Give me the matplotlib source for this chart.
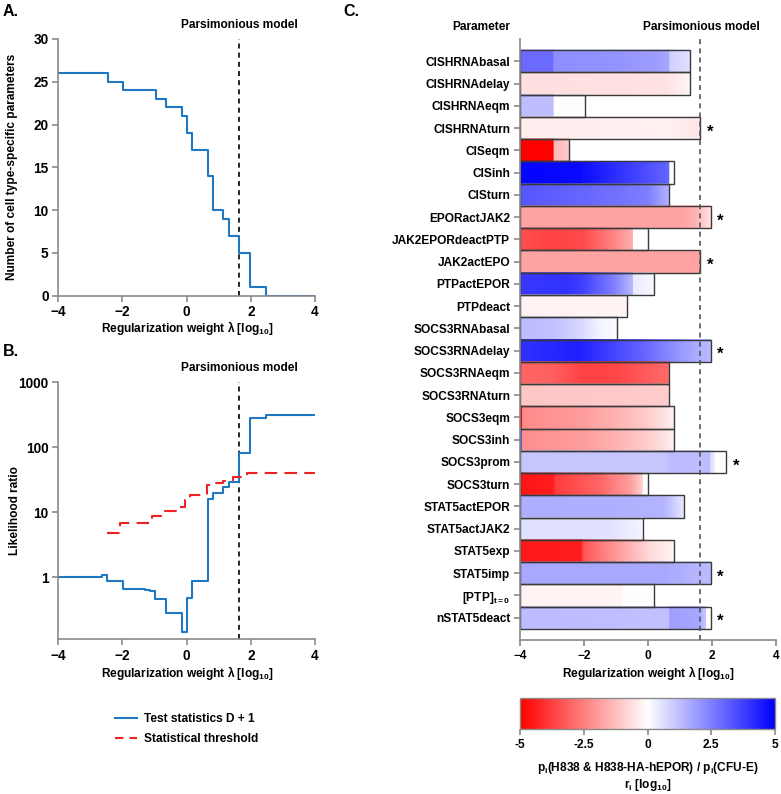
import numpy as np
import matplotlib
matplotlib.use('Agg')
import matplotlib.pyplot as plt
from matplotlib.lines import Line2D
from matplotlib.cm import ScalarMappable
from matplotlib.colors import Normalize

# ---------------- data ----------------
# Panel A: number of cell type-specific parameters (step function)
lamA = [-4, -2.46, -1.97, -0.96, -0.65, -0.16, 0.0, 0.18, 0.65, 0.81, 1.14, 1.31, 1.64, 1.97, 2.46, 4]
countA = [26, 25, 24, 23, 22, 21, 19, 17, 14, 10, 9, 7, 5, 1, 0]

# Panel B: likelihood ratio test statistics D+1 and statistical threshold
lamB = [-4, -2.63, -2.47, -1.97, -1.30, -1.14, -0.99, -0.65, -0.16, 0.0, 0.18, 0.65, 0.81,
        1.14, 1.31, 1.64, 1.97, 2.46, 4]
testD1 = [1.0, 1.09, 0.89, 0.67, 0.645, 0.62, 0.46, 0.286, 0.143, 0.475, 0.89, 15.8, 19.6,
          24.8, 29.6, 80.9, 279, 314]
lamT = [-2.47, -2.08, -1.09, -0.76, -0.26, -0.05, 0.10, 0.62, 0.79, 1.14, 1.45, 1.87, 4]
threshold = [4.87, 6.93, 8.9, 10.5, 12.2, 15.3, 18.3, 26, 28, 30.6, 35, 39.8]

lam_parsimonious = 1.64

# Panel C: parameters, bar ends, significance and log10 ratio profiles along lambda
params = ['CISHRNAbasal', 'CISHRNAdelay', 'CISHRNAeqm', 'CISHRNAturn', 'CISeqm', 'CISinh',
          'CISturn', 'EPORactJAK2', 'JAK2EPORdeactPTP', 'JAK2actEPO', 'PTPactEPOR', 'PTPdeact',
          'SOCS3RNAbasal', 'SOCS3RNAdelay', 'SOCS3RNAeqm', 'SOCS3RNAturn', 'SOCS3eqm',
          'SOCS3inh', 'SOCS3prom', 'SOCS3turn', 'STAT5actEPOR', 'STAT5actJAK2', 'STAT5exp',
          'STAT5imp', '[PTP]$_{t=0}$', 'nSTAT5deact']
bar_end = [1.31, 1.31, -1.97, 1.64, -2.46, 0.81, 0.65, 1.97, 0.0, 1.64, 0.18, -0.65, -0.96,
           1.97, 0.65, 0.65, 0.81, 0.81, 2.46, 0.0, 1.14, -0.16, 0.81, 1.97, 0.18, 1.97]
significant = [False, False, False, True, False, False, False, True, False, True, False, False,
               False, True, False, False, False, False, True, False, False, False, False, True,
               False, True]

ratio_lam = [
    [-4, -2.95, -2.94, -1.0, 0.3, 0.68, 0.69, 1.31],
    [-4, 0.5, 1.31],
    [-4, -2.94, -2.93, -1.97],
    [-4, 0.8, 1.64],
    [-4, -2.94, -2.93, -2.46],
    [-4, -2.1, 0.68, 0.69, 0.81],
    [-4, -2.0, 0.0, 0.65],
    [-4, 1.0, 1.5, 1.97],
    [-4, -3.0, -2.0, -1.0, -0.46, -0.45, 0.0],
    [-4, 1.64],
    [-4, -2.5, -2.0, -1.0, -0.46, -0.45, 0.18],
    [-4, -0.65],
    [-4, -2.9, -2.0, -1.5, -0.96],
    [-4, -2.2, -1.0, 0.0, 1.0, 1.97],
    [-4, -3.0, -2.0, -1.0, 0.0, 0.65],
    [-4, 0.65],
    [-4, -3.93, -3.92, -2.0, -1.0, 0.0, 0.81],
    [-4, -3.93, -3.92, -2.0, -1.0, 0.0, 0.81],
    [-4, 0.6, 0.7, 1.96, 1.97, 2.1, 2.11, 2.46],
    [-4, -2.95, -2.9, -1.5, -0.5, -0.15, -0.14, 0.0],
    [-4, -1.0, 0.5, 0.8, 1.14],
    [-4, -1.2, -0.16],
    [-4, -2.1, -2.0, -1.0, 0.0, 0.81],
    [-4, 0.5, 1.97],
    [-4, -0.8, -0.79, 0.18],
    [-4, 0.68, 0.69, 1.6, 1.83, 1.84, 1.97],
]
ratio_val = [
    [2.9, 2.9, 2.2, 2.1, 1.9, 1.7, 0.9, 0.6],
    [-0.6, -0.55, -0.2],
    [1.25, 1.25, 0.0, 0.0],
    [-0.35, -0.3, -0.5],
    [-5.0, -5.0, -1.4, -1.0],
    [4.9, 4.8, 3.0, 0.0, 0.0],
    [3.3, 3.0, 2.5, 1.5],
    [-1.8, -1.8, -1.5, -0.5],
    [-3.4, -3.7, -3.5, -2.3, -1.5, 0.0, 0.0],
    [-1.8, -1.8],
    [3.9, 4.0, 3.7, 2.4, 1.3, 0.4, 0.15],
    [-0.25, -0.2],
    [1.3, 1.2, 0.7, 0.2, 0.05],
    [4.0, 4.4, 3.6, 2.9, 2.0, 1.3],
    [-3.0, -3.1, -3.7, -3.6, -3.2, -2.9],
    [-1.1, -1.0],
    [-5.0, -5.0, -2.3, -1.9, -1.5, -1.0, -0.3],
    [3.0, 3.0, -2.2, -1.9, -1.5, -1.0, -0.3],
    [1.1, 1.1, 1.3, 1.3, 0.6, 0.4, 0.0, 0.0],
    [-4.6, -4.4, -3.8, -3.0, -1.8, -0.8, 0.0, 0.0],
    [1.6, 1.55, 1.45, 1.0, 0.4],
    [0.6, 0.55, 0.2],
    [-4.5, -4.4, -3.3, -2.0, -0.8, -0.2],
    [1.7, 1.7, 1.3],
    [-0.25, -0.2, 0.0, 0.0],
    [1.3, 1.2, 1.9, 1.7, 1.0, 0.0, 0.0],
]

cb_ticks = [-5, -2.5, 0, 2.5, 5]
cb_ticklabels = ['-5', '-2.5', '0', '2.5', '5']
xticks = [-4, -2, 0, 2, 4]

# ---------------- style ----------------
plt.rcParams['font.family'] = ['Liberation Sans', 'DejaVu Sans']
plt.rcParams['font.weight'] = 'bold'
plt.rcParams['mathtext.fontset'] = 'custom'
plt.rcParams['mathtext.rm'] = 'Liberation Sans:bold'
plt.rcParams['mathtext.it'] = 'Liberation Sans:bold'
plt.rcParams['mathtext.bf'] = 'Liberation Sans:bold'
plt.rcParams['mathtext.default'] = 'rm'

FS = 8.6
FS_AB = 9.8
W, H = 781, 794
BLUE = '#1f78c1'
RED = '#ee2222'
SPINE = '#8a8a8a'
cmap = plt.get_cmap('bwr_r')

fig = plt.figure(figsize=(W / 100, H / 100), dpi=100)


def axrect(l, t, r, b):
    return [l / W, 1 - b / H, (r - l) / W, (b - t) / H]


def fx(x):
    return x / W


def fy(y):
    return 1 - y / H


def style(ax, size):
    for s in ['top', 'right']:
        ax.spines[s].set_visible(False)
    for s in ['left', 'bottom']:
        ax.spines[s].set_color(SPINE)
        ax.spines[s].set_linewidth(1.2)
    ax.tick_params(color=SPINE, labelcolor='black', width=1.2, length=4, labelsize=size, pad=3)
    for lab in ax.get_xticklabels() + ax.get_yticklabels():
        lab.set_fontweight('bold')


xlabel = 'Regularization weight λ [log$_{10}$]'

# ---------------- Panel A ----------------
axA = fig.add_axes(axrect(58.3, 39, 315, 295.7))
axA.step(lamA, countA + [countA[-1]], where='post', color=BLUE, lw=1.5)
axA.set_xlim(-4, 4)
axA.set_ylim(0, 30)
axA.set_xticks(xticks)
axA.set_yticks([0, 5, 10, 15, 20, 25, 30])
axA.axvline(lam_parsimonious, color='black', lw=1.2, ls=(0, (3, 2.5)), zorder=1)
style(axA, FS_AB)

fig.text(fx(239), fy(25), 'Parsimonious model', ha='center', va='center', fontsize=FS, fontweight='bold')
fig.text(fx(12), fy(167), 'Number of cell type-specific parameters', rotation=90, ha='center',
         va='center', fontsize=FS, fontweight='bold')
fig.text(fx(187), fy(328), xlabel, ha='center', va='center', fontsize=FS, fontweight='bold')
fig.text(fx(3), fy(11), 'A.', ha='left', va='center', fontsize=11.5, fontweight='bold')

# ---------------- Panel B ----------------
axB = fig.add_axes(axrect(58.3, 382.3, 315, 639.3))
axB.step(lamB, testD1 + [testD1[-1]], where='post', color=BLUE, lw=1.5)
axB.step(lamT, threshold + [threshold[-1]], where='post', color=RED, lw=1.5, ls=(0, (6, 3.5)))
axB.set_yscale('log')
axB.set_xlim(-4, 4)
axB.set_ylim(0.111, 1000)
axB.set_xticks(xticks)
axB.set_yticks([1, 10, 100, 1000])
axB.set_yticklabels(['1', '10', '100', '1000'])
axB.yaxis.set_minor_locator(matplotlib.ticker.NullLocator())
axB.axvline(lam_parsimonious, color='black', lw=1.2, ls=(0, (3, 2.5)), zorder=1)
style(axB, FS_AB)

fig.text(fx(239), fy(368), 'Parsimonious model', ha='center', va='center', fontsize=FS, fontweight='bold')
fig.text(fx(15), fy(511), 'Likelihood ratio', rotation=90, ha='center', va='center',
         fontsize=FS, fontweight='bold')
fig.text(fx(187), fy(673), xlabel, ha='center', va='center', fontsize=FS, fontweight='bold')
fig.text(fx(3), fy(352), 'B.', ha='left', va='center', fontsize=11.5, fontweight='bold')

handles = [Line2D([], [], color=BLUE, lw=1.5),
           Line2D([], [], color=RED, lw=1.5, ls=(0, (4, 3)))]
fig.legend(handles, ['Test statistics D + 1', 'Statistical threshold'], loc='center left',
           bbox_to_anchor=(fx(115), fy(729)), frameon=False, handlelength=1.84,
           handletextpad=0.6, labelspacing=0.7, borderpad=0, borderaxespad=0,
           prop={'weight': 'bold', 'size': FS})

# ---------------- Panel C ----------------
axC = fig.add_axes(axrect(520, 39, 775.7, 640))
n = len(params)
for i in range(n):
    xs = np.array(ratio_lam[i], dtype=float)
    rs = np.array(ratio_val[i], dtype=float)
    X = np.vstack([xs, xs])
    Y = np.vstack([np.full_like(xs, i - 0.5), np.full_like(xs, i + 0.5)])
    C = np.vstack([rs, rs])
    axC.pcolormesh(X, Y, C, shading='gouraud', cmap=cmap, vmin=-5, vmax=5, zorder=1)
axC.barh(np.arange(n), np.array(bar_end) + 4, left=-4, height=1.0, fill=False,
         edgecolor='#3a3a3a', linewidth=1.0, zorder=2)
for i in range(n):
    if significant[i]:
        axC.text(bar_end[i] + 0.2, i + 0.18, '*', ha='left', va='center', fontsize=12,
                 fontweight='bold', zorder=3)
axC.axvline(lam_parsimonious, color='#555555', lw=1.2, ls=(0, (3, 2.5)), zorder=4)
axC.set_xlim(-4, 4)
axC.set_ylim(26, -1)
axC.set_yticks(np.arange(n))
axC.set_yticklabels(params)
axC.set_xticks(xticks)
style(axC, FS)

fig.text(fx(701), fy(27), 'Parsimonious model', ha='center', va='center', fontsize=FS, fontweight='bold')
fig.text(fx(481), fy(27), 'Parameter', ha='center', va='center', fontsize=FS, fontweight='bold')
fig.text(fx(648), fy(673), xlabel, ha='center', va='center', fontsize=FS, fontweight='bold')
fig.text(fx(343), fy(12), 'C.', ha='left', va='center', fontsize=11.5, fontweight='bold')

# ---------------- Colorbar ----------------
cax = fig.add_axes(axrect(520, 698.3, 775, 729))
sm = ScalarMappable(norm=Normalize(-5, 5), cmap=cmap)
cb = fig.colorbar(sm, cax=cax, orientation='horizontal')
cb.set_ticks(cb_ticks)
cb.set_ticklabels(cb_ticklabels)
cb.outline.set_edgecolor(SPINE)
cb.outline.set_linewidth(1.0)
cax.tick_params(color=SPINE, labelcolor='black', width=1.2, length=4, labelsize=FS, pad=3)
for lab in cax.get_xticklabels():
    lab.set_fontweight('bold')
fig.text(fx(648), fy(768), 'p$_i$(H838 & H838-HA-hEPOR) / p$_i$(CFU-E)', ha='center',
         va='center', fontsize=FS, fontweight='bold')
fig.text(fx(648), fy(785), 'r$_i$ [log$_{10}$]', ha='center', va='center', fontsize=FS,
         fontweight='bold')

fig.savefig('out.png', dpi=100)
